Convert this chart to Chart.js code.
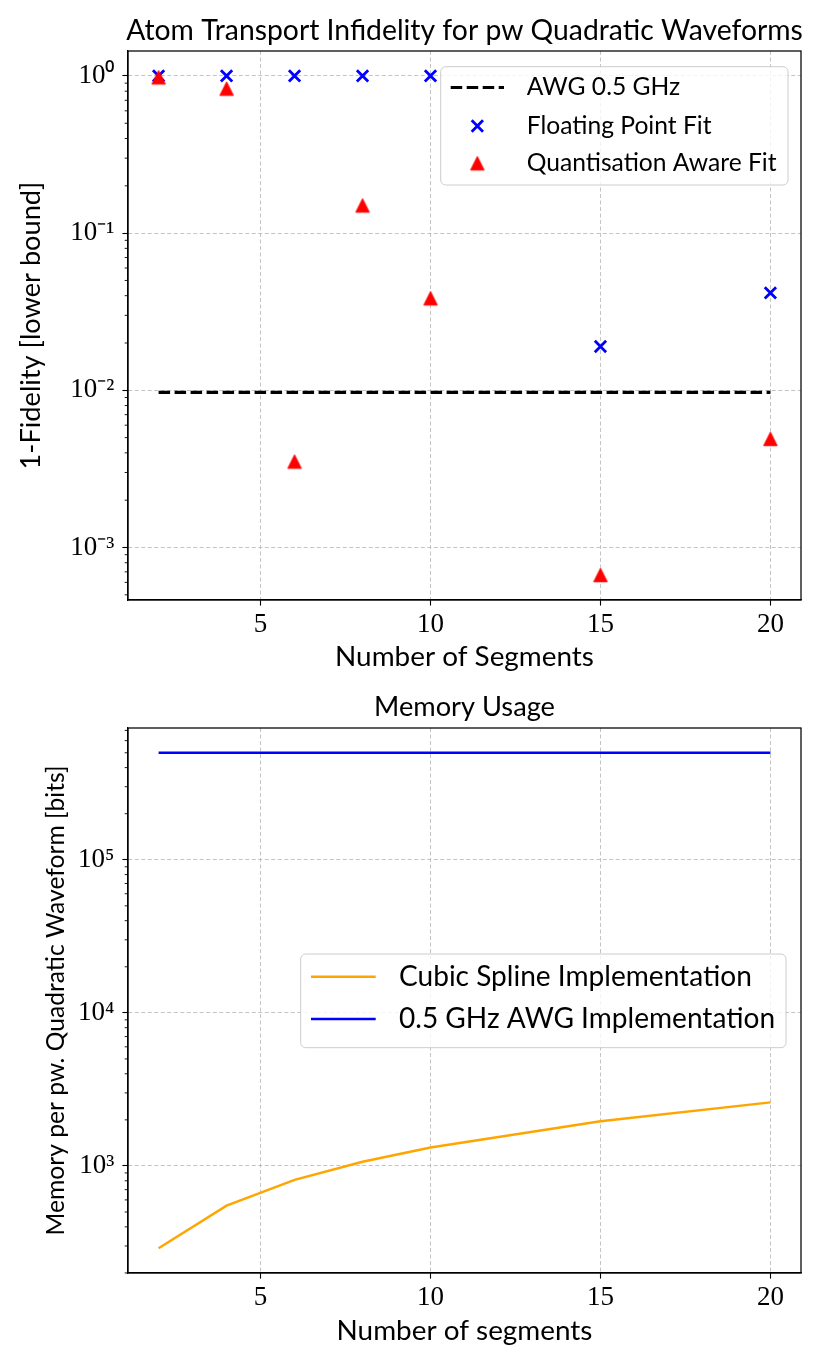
<!DOCTYPE html>
<html><head><meta charset="utf-8">
<script src="https://cdn.jsdelivr.net/npm/chart.js@4.4.1/dist/chart.umd.min.js"></script>
<style>
html,body{margin:0;padding:0;background:#fff;}
#wrap{position:relative;width:822px;height:1370px;}
.box{position:absolute;left:0;width:822px;}
#b1{top:0;height:680px;}
#b2{top:680px;height:690px;}
</style></head><body>
<div id="wrap">
  <div class="box" id="b1"><canvas id="c1"></canvas></div>
  <div class="box" id="b2"><canvas id="c2"></canvas></div>
</div>
<script>
// ---------------- data ----------------
const segments = [2, 4, 6, 8, 10, 15, 20];
const floatingPointFit = [1.0, 1.0, 1.0, 1.0, 1.0, 0.019, 0.0417];
const quantisationAwareFit = [0.98, 0.83, 0.00352, 0.150, 0.0385, 0.000668, 0.00491];
const awgSegments = [2, 20];
const awgInfidelity = [0.0097, 0.0097];
const cubicSplineMemory = [290, 550, 810, 1065, 1320, 1960, 2600];
const awgMemory = [500000, 500000, 500000, 500000, 500000, 500000, 500000];
const xTicks = [5, 10, 15, 20];

const title1 = 'Atom Transport Infidelity for pw Quadratic Waveforms';
const title2 = 'Memory Usage';
const xTitle1 = 'Number of Segments';
const xTitle2 = 'Number of segments';
const yTitle1 = '1-Fidelity [lower bound]';
const yTitle2 = 'Memory per pw. Quadratic Waveform [bits]';
const legend1Labels = ['AWG 0.5 GHz', 'Floating Point Fit', 'Quantisation Aware Fit'];
const legend2Labels = ['Cubic Spline Implementation', '0.5 GHz AWG Implementation'];

// ---------------- styling helpers ----------------
const SANS = 'Lato';
const SERIF = '"Liberation Serif"';
const TICK_SIZE = 27;
const GRID = 'rgba(176,176,176,0.95)';
const mctx = document.createElement('canvas').getContext('2d');
function fit(text, width, family) {
  mctx.font = '100px ' + (family || SANS);
  return 100 * width / mctx.measureText(text).width;
}
const sTitle1 = fit(title1, 677);
const sTitle2 = fit(title2, 181);
const sX = fit(xTitle1, 259);
const sY1 = fit(yTitle1, 288);
const sY2 = fit(yTitle2, 470);
const sLeg1 = fit(legend1Labels[2], 250);
const sLeg2 = fit(legend2Labels[0], 353);

const SUP = {'-': '\u207B', '0': '\u2070', '1': '\u00B9', '2': '\u00B2', '3': '\u00B3', '4': '\u2074', '5': '\u2075', '6': '\u2076'};
function sup(n) { return String(n).split('').map(c => SUP[c]).join(''); }

function logLimits(arrays) {
  const all = [].concat(...arrays);
  const lo = Math.log10(Math.min(...all)), hi = Math.log10(Math.max(...all));
  const m = 0.05 * (hi - lo);
  return [lo - m, hi + m];
}
function linLimits(arr) {
  const lo = Math.min(...arr), hi = Math.max(...arr), m = 0.05 * (hi - lo);
  return [lo - m, hi + m];
}
const [xMin, xMax] = linLimits(segments);

function triangleCanvas(size, color) {
  const pad = 2, w = Math.ceil(size + 2 * pad) + (Math.ceil(size + 2 * pad) % 2);
  const c = document.createElement('canvas'); c.width = w; c.height = w;
  const g = c.getContext('2d'); const h = size / 2, m = w / 2;
  g.beginPath(); g.moveTo(m, m - h); g.lineTo(m + h, m + h); g.lineTo(m - h, m + h); g.closePath();
  g.fillStyle = color; g.fill(); g.lineWidth = 1; g.strokeStyle = color; g.stroke();
  return c;
}
const TRI = triangleCanvas(13.5, '#ff0000');

function xScale(text, canvasH, axisH, titleCenterY) {
  return {
    type: 'linear', min: xMin, max: xMax, bounds: 'data',
    afterBuildTicks: s => { s.ticks = xTicks.map(v => ({value: v})); },
    afterFit: s => { s.height = axisH; },
    ticks: {font: {family: SERIF, size: TICK_SIZE}, color: '#000', padding: 3, maxRotation: 0, autoSkip: false,
            callback: v => String(v)},
    grid: {color: GRID, lineWidth: 0.8, tickColor: '#000', tickLength: 5.6, tickWidth: 1.1},
    border: {display: true, color: '#000', width: 1.25, dash: [4, 2.5]},
    title: {display: true, text: text, color: '#000', font: {family: SANS, size: sX, lineHeight: 1.2},
            padding: {top: 0, bottom: canvasH - titleCenterY - 0.6 * sX}}
  };
}
function yScale(lims, text, size, baselineX) {
  const [lo, hi] = lims;
  const centerX = baselineX - 0.387 * size;
  return {
    type: 'logarithmic', min: Math.pow(10, lo), max: Math.pow(10, hi), bounds: 'data',
    afterBuildTicks: s => {
      const t = [];
      for (let e = Math.ceil(lo); e <= Math.floor(hi); e++) t.push({value: Math.pow(10, e)});
      s.ticks = t;
    },
    afterFit: s => { s.width = 128; },
    ticks: {font: {family: SERIF, size: TICK_SIZE}, color: '#000', padding: 8, autoSkip: false,
            callback: v => '10' + sup(Math.round(Math.log10(v)))},
    grid: {color: GRID, lineWidth: 0.8, tickColor: '#000', tickLength: 5.6, tickWidth: 1.1},
    border: {display: true, color: '#000', width: 1.25, dash: [4, 2.5]},
    title: {display: true, text: text, color: '#000', font: {family: SANS, size: size, lineHeight: 1.2},
            padding: {top: centerX - 0.6 * size, bottom: 0}}
  };
}

function drawX(ctx, x, y, r, color, w) {
  const d = r * Math.SQRT1_2;
  ctx.save(); ctx.strokeStyle = color; ctx.lineWidth = w; ctx.beginPath();
  ctx.moveTo(x - d, y - d); ctx.lineTo(x + d, y + d); ctx.moveTo(x - d, y + d); ctx.lineTo(x + d, y - d);
  ctx.stroke(); ctx.restore();
}

// axes frame, minor log ticks, axes title (centred on the axes) and in-axes legend
const framePlugin = {
  id: 'frameAndLegend',
  afterDraw(chart, args, opts) {
    const {ctx, chartArea: a} = chart;
    const ys = chart.scales.y;
    const lo = Math.log10(ys.min), hi = Math.log10(ys.max);
    ctx.save();
    ctx.strokeStyle = '#000'; ctx.lineWidth = 0.9;
    for (let e = Math.floor(lo); e <= Math.ceil(hi); e++) {
      for (let k = 2; k <= 9; k++) {
        const v = k * Math.pow(10, e);
        if (v < ys.min || v > ys.max) continue;
        const p = ys.getPixelForValue(v);
        ctx.beginPath(); ctx.moveTo(a.left - 3.3, p); ctx.lineTo(a.left, p); ctx.stroke();
      }
    }
    ctx.lineWidth = 1.25;
    ctx.strokeRect(a.left, a.top, a.right - a.left, a.bottom - a.top);
    // title
    if (opts.title) {
      ctx.fillStyle = '#000'; ctx.font = opts.title.size + 'px ' + SANS;
      ctx.textAlign = 'center'; ctx.textBaseline = 'middle';
      ctx.fillText(opts.title.text, (a.left + a.right) / 2, opts.title.y);
    }
    // legend
    const L = opts.legend;
    if (L) {
      ctx.beginPath();
      if (ctx.roundRect) ctx.roundRect(L.x0, L.y0, L.x1 - L.x0, L.y1 - L.y0, 5);
      else ctx.rect(L.x0, L.y0, L.x1 - L.x0, L.y1 - L.y0);
      ctx.fillStyle = 'rgba(255,255,255,0.8)'; ctx.fill();
      ctx.lineWidth = 1; ctx.strokeStyle = '#cccccc'; ctx.stroke();
      L.items.forEach(it => {
        if (it.kind === 'line') {
          ctx.save(); ctx.strokeStyle = it.color; ctx.lineWidth = it.width; ctx.setLineDash(it.dash || []);
          ctx.beginPath(); ctx.moveTo(L.lx0, it.y); ctx.lineTo(L.lx1, it.y); ctx.stroke(); ctx.restore();
        } else if (it.kind === 'x') {
          drawX(ctx, (L.lx0 + L.lx1) / 2, it.y, 8, it.color, 2.8);
        } else if (it.kind === 'tri') {
          ctx.drawImage(TRI, (L.lx0 + L.lx1) / 2 - TRI.width / 2, it.y - TRI.height / 2);
        }
        ctx.fillStyle = '#000'; ctx.font = L.size + 'px ' + SANS;
        ctx.textBaseline = 'middle'; ctx.textAlign = 'left';
        ctx.fillText(it.label, L.tx, it.y);
      });
    }
    ctx.restore();
  }
};

const common = {
  responsive: true, maintainAspectRatio: false, animation: false, events: [],
  devicePixelRatio: window.devicePixelRatio || 1
};

// ---------------- chart 1 ----------------
const lims1 = logLimits([floatingPointFit, quantisationAwareFit, awgInfidelity]);
new Chart(document.getElementById('c1'), {
  type: 'scatter',
  data: {
    datasets: [
      {label: legend1Labels[0], data: awgSegments.map((x, i) => ({x, y: awgInfidelity[i]})), showLine: true,
       borderColor: '#000', borderWidth: 3.2, borderDash: [11.5, 4.5], pointRadius: 0, order: 3},
      {label: legend1Labels[1], data: segments.map((x, i) => ({x, y: floatingPointFit[i]})),
       pointStyle: 'crossRot', pointRadius: 8, borderColor: '#0000ff', backgroundColor: '#0000ff', borderWidth: 2.8, order: 2},
      {label: legend1Labels[2], data: segments.map((x, i) => ({x, y: quantisationAwareFit[i]})),
       pointStyle: TRI, pointRadius: 7, borderColor: '#ff0000', backgroundColor: '#ff0000', order: 1}
    ]
  },
  options: Object.assign({}, common, {
    layout: {padding: {left: 0, right: 21, top: 51, bottom: 0}},
    scales: {x: xScale(xTitle1, 680, 80, 657.5), y: yScale(lims1, yTitle1, sY1, 42)},
    plugins: {
      legend: {display: false}, tooltip: {enabled: false}, title: {display: false},
      frameAndLegend: {
        title: {text: title1, size: sTitle1, y: 31},
        legend: {
        x0: 440.7, x1: 788, y0: 66.7, y1: 185, lx0: 450.7, lx1: 504, tx: 526.7, size: sLeg1,
        items: [
          {kind: 'line', color: '#000', width: 3.2, dash: [11.5, 4.5], y: 87.5, label: legend1Labels[0]},
          {kind: 'x', color: '#0000ff', y: 126, label: legend1Labels[1]},
          {kind: 'tri', y: 163.3, label: legend1Labels[2]}
        ]}}
    }
  }),
  plugins: [framePlugin]
});

// ---------------- chart 2 ----------------
const lims2 = logLimits([cubicSplineMemory, awgMemory]);
new Chart(document.getElementById('c2'), {
  type: 'line',
  data: {
    datasets: [
      {label: legend2Labels[0], data: segments.map((x, i) => ({x, y: cubicSplineMemory[i]})),
       borderColor: '#ffa500', borderWidth: 2.4, pointRadius: 0, tension: 0},
      {label: legend2Labels[1], data: segments.map((x, i) => ({x, y: awgMemory[i]})),
       borderColor: '#0000ff', borderWidth: 2.4, pointRadius: 0, tension: 0}
    ]
  },
  options: Object.assign({}, common, {
    layout: {padding: {left: 0, right: 21, top: 48, bottom: 0}},
    scales: {x: xScale(xTitle2, 690, 97, 651.5), y: yScale(lims2, yTitle2, sY2, 66)},
    plugins: {
      legend: {display: false}, tooltip: {enabled: false}, title: {display: false},
      frameAndLegend: {
        title: {text: title2, size: sTitle2, y: 27},
        legend: {
        x0: 300.7, x1: 786, y0: 274, y1: 367.7, lx0: 311, lx1: 375.7, tx: 399, size: sLeg2,
        items: [
          {kind: 'line', color: '#ffa500', width: 2.4, y: 296.7, label: legend2Labels[0]},
          {kind: 'line', color: '#0000ff', width: 2.4, y: 339, label: legend2Labels[1]}
        ]}}
    }
  }),
  plugins: [framePlugin]
});
</script>
</body></html>
